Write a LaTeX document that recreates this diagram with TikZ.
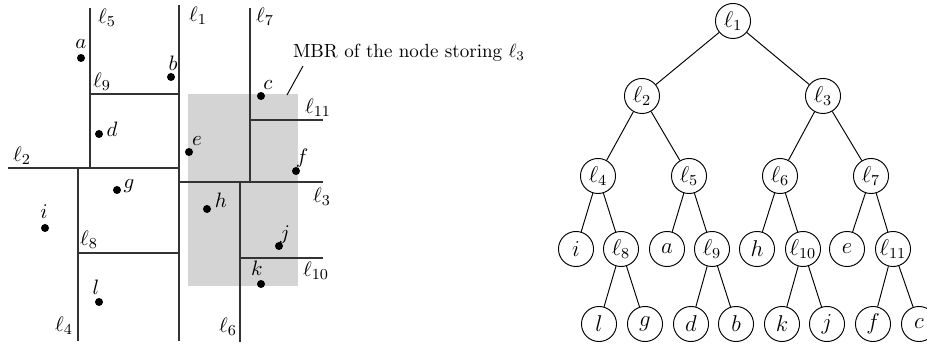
\documentclass[tikz,border=0pt]{standalone}
\begin{document}
\begin{tikzpicture}[x=0.525pt,y=-0.525pt,
  part/.style={line width=0.55pt,black!80},
  lab/.style={font=\fontsize{11}{13}\selectfont},
  dot/.style={circle,fill=black,inner sep=0pt,minimum size=4.2pt},
  tn/.style={circle,draw,line width=0.5pt,inner sep=0pt,minimum size=18.4pt,font=\large},
  edge/.style={line width=0.5pt}]
\useasboundingbox (0,0) rectangle (927,347);
% MBR
\fill[black!17] (188,94) rectangle (298,286);
% partition lines
\draw[part] (8,168) -- (179,168);   % l2
\draw[part] (179,5) -- (179,341);   % l1
\draw[part] (90,8) -- (90,168);     % l5
\draw[part] (90,94) -- (179,94);    % l9
\draw[part] (78,168) -- (78,341);   % l4
\draw[part] (78,253) -- (180,253);  % l8
\draw[part] (179,182) -- (323,182); % l3
\draw[part] (250,8) -- (250,182);   % l7
\draw[part] (250,120) -- (323,120); % l11
\draw[part] (240,182) -- (240,342); % l6
\draw[part] (240,258) -- (323,258); % l10
% line labels
\node[lab] at (107,18) {$\ell_5$};
\node[lab] at (198,16) {$\ell_1$};
\node[lab] at (265,17) {$\ell_7$};
\node[lab] at (102,82) {$\ell_9$};
\node[lab] at (318,108) {$\ell_{11}$};
\node[lab] at (22,156) {$\ell_2$};
\node[lab] at (322,197) {$\ell_3$};
\node[lab] at (89,240) {$\ell_8$};
\node[lab] at (316,271) {$\ell_{10}$};
\node[lab] at (64,326) {$\ell_4$};
\node[lab] at (228,327) {$\ell_6$};
% points
\node[dot] (pa) at (81,58) {};   \node[lab] at (81,44) {$a$};
\node[dot] (pb) at (171,77) {};  \node[lab] at (173,63) {$b$};
\node[dot] (pc) at (261,96) {};  \node[lab] at (268,85) {$c$};
\node[dot] (pd) at (99,134) {};  \node[lab] at (112,129) {$d$};
\node[dot] (pe) at (189,152) {}; \node[lab] at (197,141) {$e$};
\node[dot] (pf) at (296,171) {}; \node[lab] at (302,158) {$f$};
\node[dot] (pg) at (117,190) {}; \node[lab] at (129,186) {$g$};
\node[dot] (ph) at (207,209) {}; \node[lab] at (221,200) {$h$};
\node[dot] (pi) at (45,228) {};  \node[lab] at (44,212) {$i$};
\node[dot] (pj) at (279,246) {}; \node[lab] at (285,235) {$j$};
\node[dot] (pk) at (261,284) {}; \node[lab] at (257,268) {$k$};
\node[dot] (pl) at (99,302) {};  \node[lab] at (96,287) {$l$};
% MBR label
\node (mbr) at (409,53) {MBR of the node storing $\ell_3$};
\coordinate (mbrend) at (287,95);
\draw[line width=0.5pt] (303,66) -- (mbrend);
% tree
\node[tn] (t1) at (733,21) {$\ell_1$};
\node[tn] (t2) at (642,96) {$\ell_2$};
\node[tn] (t3) at (823,96) {$\ell_3$};
\node[tn] (t4) at (598,176) {$\ell_4$};
\node[tn] (t5) at (689,176) {$\ell_5$};
\node[tn] (t6) at (780,176) {$\ell_6$};
\node[tn] (t7) at (871,176) {$\ell_7$};
\node[tn] (ti) at (576,249) {$i$};
\node[tn] (t8) at (621,249) {$\ell_8$};
\node[tn] (ta) at (667,249) {$a$};
\node[tn] (t9) at (712,249) {$\ell_9$};
\node[tn] (th) at (757,249) {$h$};
\node[tn] (t10) at (803,249) {$\ell_{10}$};
\node[tn] (te) at (847,249) {$e$};
\node[tn] (t11) at (893,249) {$\ell_{11}$};
\node[tn] (tl) at (599,324) {$l$};
\node[tn] (tg) at (645,324) {$g$};
\node[tn] (td) at (691,324) {$d$};
\node[tn] (tb) at (736,324) {$b$};
\node[tn] (tk) at (782,324) {$k$};
\node[tn] (tj) at (827,324) {$j$};
\node[tn] (tf) at (873,324) {$f$};
\node[tn] (tc) at (919,324) {$c$};
\foreach \p/\c in {t1/t2,t1/t3,t2/t4,t2/t5,t3/t6,t3/t7,t4/ti,t4/t8,t5/ta,t5/t9,t6/th,t6/t10,t7/te,t7/t11,t8/tl,t8/tg,t9/td,t9/tb,t10/tk,t10/tj,t11/tf,t11/tc}
  \draw[edge] (\p) -- (\c);
\end{tikzpicture}
\end{document}
